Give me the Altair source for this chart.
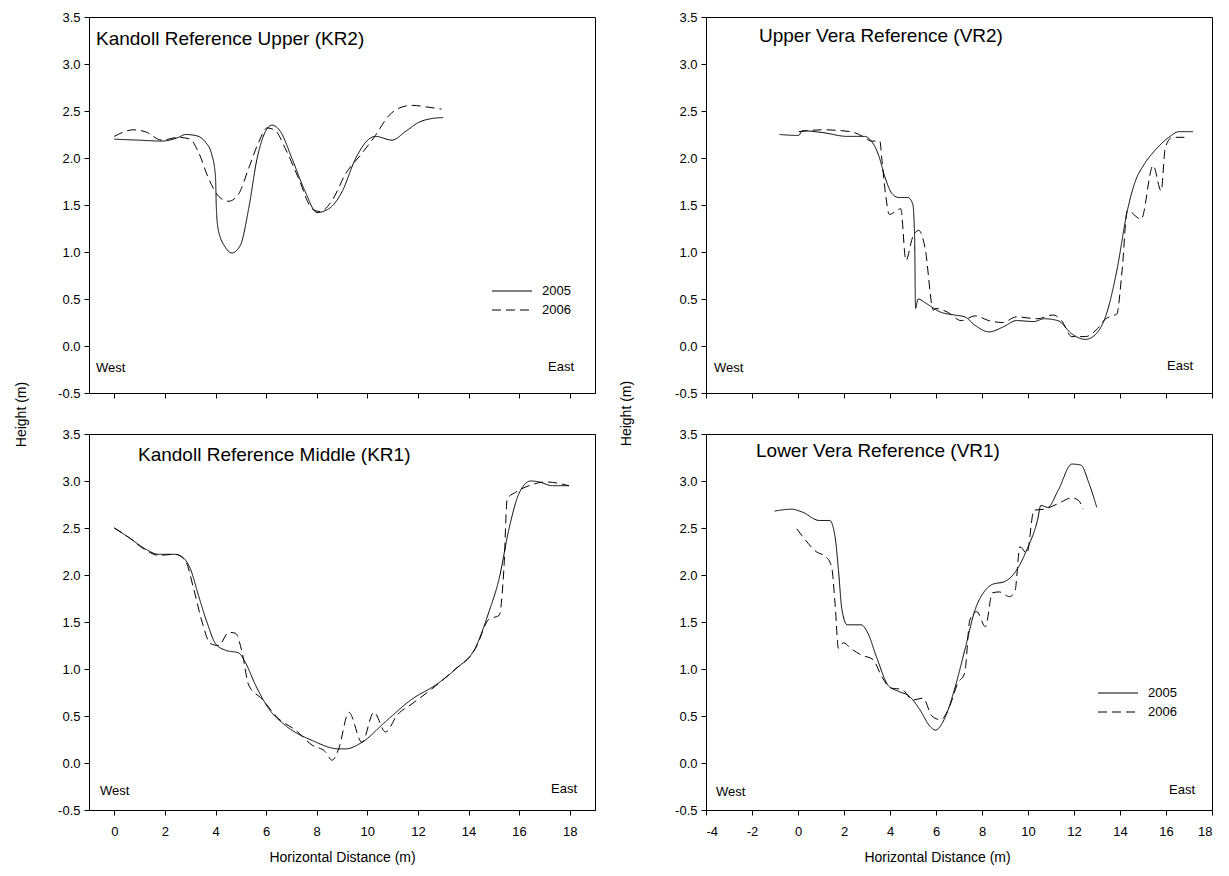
import altair as alt
import pandas as pd

FONT = "Liberation Sans"

# ---------------- data ----------------
years = ["2005", "2006"]
y_ticks = [-0.5, 0.0, 0.5, 1.0, 1.5, 2.0, 2.5, 3.0, 3.5]
x_ticks_kandoll = [0, 2, 4, 6, 8, 10, 12, 14, 16, 18]
x_ticks_vera = [-4, -2, 0, 2, 4, 6, 8, 10, 12, 14, 16, 18]

titles = ["Kandoll Reference Upper (KR2)", "Kandoll Reference Middle (KR1)",
          "Upper Vera Reference (VR2)", "Lower Vera Reference (VR1)"]
side_labels = ["West", "East"]

# KR2 (Kandoll Reference Upper)
kr2_2005_x = [0.0, 0.96, 1.88, 2.54, 2.81, 3.2, 3.6, 3.86, 4.0, 4.03, 4.1, 4.39, 4.65, 4.98, 5.31, 5.64,
              5.97, 6.23, 6.57, 7.03, 7.55, 8.01, 8.48, 9.0, 9.53, 10.06, 10.32, 10.98, 11.5, 12.04, 12.56, 13.0]
kr2_2005_y = [2.2, 2.19, 2.18, 2.22, 2.25, 2.24, 2.17, 2.03, 1.8, 1.5, 1.25, 1.05, 0.99, 1.07, 1.46, 1.99,
              2.28, 2.35, 2.28, 1.99, 1.64, 1.42, 1.46, 1.64, 1.99, 2.2, 2.23, 2.19, 2.28, 2.38, 2.42, 2.43]
kr2_2006_x = [0.0, 0.76, 1.22, 1.88, 2.54, 3.0, 3.33, 3.73, 4.13, 4.52, 4.92, 5.31, 5.71, 6.04, 6.37,
              6.76, 7.29, 7.82, 8.15, 8.61, 9.14, 9.79, 10.32, 10.85, 11.25, 11.77, 12.43, 12.93]
kr2_2006_y = [2.23, 2.3, 2.28, 2.19, 2.22, 2.2, 2.06, 1.78, 1.59, 1.54, 1.62, 1.89, 2.17, 2.32, 2.29,
              2.1, 1.78, 1.46, 1.43, 1.55, 1.83, 2.05, 2.24, 2.45, 2.53, 2.56, 2.54, 2.52]

# KR1 (Kandoll Reference Middle)
kr1_2005_x = [0.0, 0.57, 1.21, 1.75, 2.4, 2.74, 3.0, 3.33, 3.66, 4.0, 4.39, 4.92, 5.18, 5.58, 6.1, 6.76,
              7.82, 8.87, 9.14, 9.79, 10.72, 11.77, 12.7, 13.49, 14.28, 14.81, 15.21, 15.6, 16.0,
              16.46, 16.79, 17.31, 17.97]
kr1_2005_y = [2.5, 2.4, 2.28, 2.22, 2.22, 2.18, 2.07, 1.78, 1.5, 1.27, 1.2, 1.17, 1.07, 0.83, 0.58, 0.4,
              0.24, 0.15, 0.15, 0.22, 0.44, 0.68, 0.83, 1.0, 1.23, 1.61, 1.96, 2.49, 2.87,
              3.0, 2.99, 2.95, 2.95]
kr1_2006_x = [0.0, 0.57, 1.21, 1.75, 2.4, 2.81, 3.14, 3.47, 3.8, 4.13, 4.52, 4.79, 5.05, 5.31, 5.84, 6.5,
              7.16, 7.82, 8.34, 8.61, 8.87, 9.27, 9.79, 10.26, 10.72, 11.18, 11.77, 12.56, 13.35,
              14.28, 14.81, 15.21, 15.4, 15.53, 15.86, 16.39, 17.05, 17.97]
kr1_2006_y = [2.5, 2.4, 2.27, 2.21, 2.22, 2.15, 1.85, 1.5, 1.27, 1.25, 1.39, 1.38, 1.18, 0.83, 0.68, 0.47,
              0.35, 0.19, 0.12, 0.03, 0.15, 0.54, 0.22, 0.54, 0.33, 0.51, 0.63, 0.79, 0.97,
              1.22, 1.53, 1.57, 2.07, 2.81, 2.88, 2.95, 2.99, 2.95]

# VR2 (Upper Vera Reference)
vr2_2005_x = [-0.8, 0.03, 0.18, 1.08, 2.14, 2.89, 3.19, 3.49, 3.79, 4.09, 4.39, 4.77, 4.99, 5.07, 5.11,
              5.22, 5.59, 6.2, 6.8, 7.25, 7.7, 8.3, 8.9, 9.5, 10.26, 10.7, 11.3, 11.9, 12.5, 12.96,
              13.41, 13.86, 14.32, 14.62, 15.07, 15.52, 16.12, 16.57, 17.17]
vr2_2005_y = [2.25, 2.24, 2.29, 2.27, 2.23, 2.23, 2.18, 2.04, 1.79, 1.62, 1.58, 1.58, 1.51, 1.16, 0.4,
              0.5, 0.45, 0.36, 0.33, 0.31, 0.22, 0.15, 0.2, 0.27, 0.26, 0.29, 0.27, 0.13, 0.07, 0.13,
              0.34, 0.8, 1.44, 1.72, 1.94, 2.08, 2.22, 2.28, 2.28]
vr2_2006_x = [0.03, 1.08, 2.29, 2.89, 3.19, 3.56, 3.64, 3.79, 3.97, 4.17, 4.47, 4.69, 4.99, 5.25, 5.52,
              5.89, 5.97, 6.5, 7.1, 7.7, 8.3, 8.9, 9.5, 10.4, 11.08, 11.46, 11.9, 12.5, 12.96,
              13.38, 13.64, 13.86, 14.09, 14.32, 14.92, 15.44, 15.79, 15.97, 16.27, 16.8]
vr2_2006_y = [2.28, 2.3, 2.28, 2.22, 2.18, 2.18, 2.0, 1.65, 1.4, 1.42, 1.46, 0.91, 1.16, 1.23, 1.05,
              0.38, 0.4, 0.36, 0.27, 0.32, 0.27, 0.25, 0.31, 0.29, 0.33, 0.27, 0.1, 0.1, 0.17,
              0.29, 0.32, 0.34, 0.8, 1.44, 1.35, 1.92, 1.65, 2.11, 2.22, 2.22]

# VR1 (Lower Vera Reference)
vr1_2005_x = [-1.02, -0.27, 0.18, 0.93, 1.38, 1.61, 1.76, 1.91, 2.14, 2.74, 3.04, 3.41, 3.94, 4.39, 4.84,
              5.29, 5.74, 5.97, 6.35, 6.8, 7.25, 7.7, 8.15, 8.45, 8.98, 9.5, 9.95, 10.41, 10.56,
              10.86, 11.31, 11.91, 12.29, 12.66, 12.99]
vr1_2005_y = [2.68, 2.7, 2.67, 2.58, 2.58, 2.41, 2.05, 1.63, 1.47, 1.47, 1.38, 1.13, 0.82, 0.76, 0.71,
              0.57, 0.39, 0.35, 0.46, 0.78, 1.2, 1.63, 1.84, 1.9, 1.93, 2.05, 2.27, 2.58, 2.74,
              2.72, 2.9, 3.18, 3.17, 2.97, 2.72]
vr1_2006_x = [-0.05, 0.33, 0.78, 1.23, 1.46, 1.61, 1.76, 1.98, 2.29, 2.74, 3.26, 3.64, 4.02, 4.54, 4.99,
              5.44, 5.82, 6.2, 6.57, 6.95, 7.25, 7.47, 7.77, 8.15, 8.45, 8.75, 9.2, 9.43, 9.65,
              9.95, 10.26, 10.71, 11.31, 11.91, 12.21, 12.39]
vr1_2006_y = [2.49, 2.37, 2.25, 2.19, 2.09, 1.7, 1.22, 1.28, 1.22, 1.15, 1.1, 0.92, 0.8, 0.78, 0.67,
              0.69, 0.5, 0.46, 0.59, 0.85, 0.96, 1.52, 1.61, 1.45, 1.81, 1.82, 1.77, 1.82, 2.3,
              2.23, 2.69, 2.7, 2.76, 2.82, 2.79, 2.7]


def long_df(x05, y05, x06, y06):
    return pd.concat([
        pd.DataFrame({"x": x05, "y": y05, "year": years[0]}),
        pd.DataFrame({"x": x06, "y": y06, "year": years[1]}),
    ], ignore_index=True)


DASHES = [[1, 0], [9, 5]]
dash_scale = alt.Scale(domain=years, range=DASHES)
W, H = 506, 376
HYPHEN = "replace(datum.label, '\u2212', '-')"


def panel(df, xdom, xticks, show_x, title, title_pos, west_pos, east_pos,
          legend_pos=None, ytitle=None, xtitle_x=None):
    x_axis_kw = dict(values=xticks, tickSize=5, labelPadding=10, titlePadding=12, labelExpr=HYPHEN)
    if show_x:
        x_axis_kw.update(title="Horizontal Distance (m)", labels=True)
        if xtitle_x is not None:
            x_axis_kw.update(titleX=xtitle_x)
    else:
        x_axis_kw.update(title=None, labels=False)
    y_axis_kw = dict(values=y_ticks, format=".1f", tickSize=5, labelPadding=4, labelExpr=HYPHEN)
    if ytitle is not None:
        y_axis_kw.update(title="Height (m)", titleX=ytitle[0], titleY=ytitle[1],
                         titleBaseline="middle", titleAngle=270, titleAlign="center")
    else:
        y_axis_kw.update(title=None)

    lines = alt.Chart(df).mark_line(color="black", strokeWidth=1, interpolate="monotone").encode(
        x=alt.X("x:Q", scale=alt.Scale(domain=xdom, nice=False, zero=False), axis=alt.Axis(**x_axis_kw)),
        y=alt.Y("y:Q", scale=alt.Scale(domain=[-0.5, 3.5], nice=False, zero=False),
                axis=alt.Axis(**y_axis_kw)),
        strokeDash=alt.StrokeDash("year:N", scale=dash_scale, legend=None),
    )

    def txt(s, pos, align, size):
        return alt.Chart(pd.DataFrame({"t": [s]})).mark_text(
            align=align, baseline="middle", fontSize=size, font=FONT, color="black"
        ).encode(x=alt.value(pos[0]), y=alt.value(pos[1]), text="t:N")

    layers = [lines,
              txt(title, title_pos, "left", 19),
              txt(side_labels[0], west_pos, "left", 13),
              txt(side_labels[1], east_pos, "right", 13)]

    if legend_pos is not None:
        lx, ly = legend_pos
        for i, yr in enumerate(years):
            layers.append(
                alt.Chart(pd.DataFrame({"t": [yr]})).mark_rule(color="black", strokeWidth=1).encode(
                    x=alt.value(lx), x2=alt.value(lx + 40), y=alt.value(ly + 19 * i),
                    strokeDash=alt.value(DASHES[i]))
            )
            layers.append(txt(yr, (lx + 50, ly + 19 * i), "left", 13))

    return alt.layer(*layers).properties(width=W, height=H)


kr2 = panel(long_df(kr2_2005_x, kr2_2005_y, kr2_2006_x, kr2_2006_y), [-1, 19], x_ticks_kandoll, False,
            titles[0], (7, 22), (7, 351), (485, 350), legend_pos=(403, 274), ytitle=(-68, 397))
kr1 = panel(long_df(kr1_2005_x, kr1_2005_y, kr1_2006_x, kr1_2006_y), [-1, 19], x_ticks_kandoll, True,
            titles[1], (49, 21), (11, 357), (488, 355))
vr2 = panel(long_df(vr2_2005_x, vr2_2005_y, vr2_2006_x, vr2_2006_y), [-4, 18], x_ticks_vera, False,
            titles[2], (53, 19), (8, 351), (487, 349), ytitle=(-80, 396))
vr1 = panel(long_df(vr1_2005_x, vr1_2005_y, vr1_2006_x, vr1_2006_y), [-4, 18], x_ticks_vera, True,
            titles[3], (50, 17), (10, 358), (489, 356), legend_pos=(392, 259), xtitle_x=231)

chart = alt.concat(kr2, vr2, kr1, vr1, columns=2, bounds="flush",
                   spacing=alt.RowColnumber(row=41, column=111)).properties(
    padding={"left": 5, "top": 2, "right": 5, "bottom": 5}
).configure_axis(
    grid=False, domainColor="black", tickColor="black", labelColor="black", titleColor="black",
    labelFont=FONT, titleFont=FONT, labelFontSize=13, titleFontSize=14, titleFontWeight="normal",
).configure_view(stroke="black", strokeWidth=1)

chart.save("out.html", embed_options={"renderer": "svg", "actions": False})
